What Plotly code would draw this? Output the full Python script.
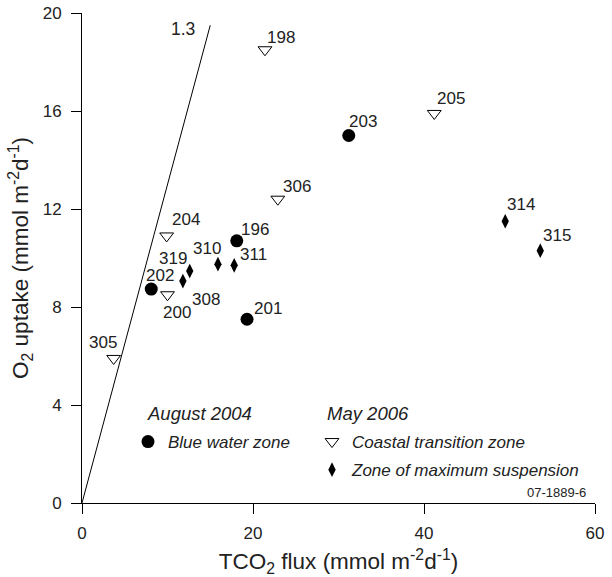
import plotly.graph_objects as go

FONT = "Liberation Sans, Arial, Helvetica, sans-serif"

# Blue water zone (August 2004)
blue_ids = ["203", "196", "202", "201"]
blue_x = [31.2, 18.1, 8.1, 19.3]
blue_y = [15.0, 10.7, 8.73, 7.5]

# Coastal transition zone (May 2006)
coastal_ids = ["198", "205", "306", "204", "200", "305"]
coastal_x = [21.4, 41.2, 22.9, 9.9, 10.0, 3.7]
coastal_y = [18.5, 15.9, 12.4, 10.9, 8.5, 5.9]

# Zone of maximum suspension (May 2006)
zms_ids = ["310", "311", "319", "308", "314", "315"]
zms_x = [15.9, 17.8, 12.6, 11.8, 49.5, 53.6]
zms_y = [9.75, 9.7, 9.47, 9.06, 11.5, 10.3]

# 1.3 ratio line
ratio = 1.3
line_x = [0, 15.0]

x_ticks = [0, 20, 40, 60]
y_ticks = [0, 4, 8, 12, 16, 20]

# label offsets (pixels) for station labels
offsets = {
    "203": (14, 14), "196": (18, 11), "202": (9, 14), "201": (21, 11),
    "198": (16, 12), "205": (17, 15), "306": (19, 13), "204": (19, 16),
    "200": (9, -18), "305": (-11, 16),
    "310": (-11, 16), "311": (19, 11), "319": (-17, 12), "308": (23, -18),
    "314": (16, 17), "315": (17, 15),
}

W, H = 612, 577
L, R, T, B = 82, 17, 13, 74
PW, PH = W - L - R, H - T - B


def px(xp):
    return (xp - L) / PW


def py(yp):
    return (H - B - yp) / PH


fig = go.Figure()

fig.add_trace(go.Scatter(
    x=line_x, y=[v * ratio for v in line_x], mode="lines",
    line=dict(color="black", width=1), showlegend=False, hoverinfo="skip"))

fig.add_trace(go.Scatter(
    x=blue_x, y=blue_y, mode="markers", name="<i>Blue water zone</i>",
    marker=dict(symbol="circle", size=13, color="black", line=dict(width=0)),
    legend="legend"))

fig.add_trace(go.Scatter(
    x=coastal_x, y=coastal_y, mode="markers", name="<i>Coastal transition zone</i>",
    marker=dict(symbol="triangle-down-open", size=12, color="black", line=dict(width=1, color="black")),
    legend="legend2", legendgroup="c"))

fig.add_trace(go.Scatter(
    x=zms_x, y=zms_y, mode="markers", name="<i>Zone of maximum suspension</i>",
    marker=dict(symbol="diamond-tall", size=10.5, color="black", line=dict(width=0)),
    legend="legend2", legendgroup="z"))

annotations = []
for ids, xs, ys in [(blue_ids, blue_x, blue_y), (coastal_ids, coastal_x, coastal_y), (zms_ids, zms_x, zms_y)]:
    for sid, xv, yv in zip(ids, xs, ys):
        dx, dy = offsets[sid]
        annotations.append(dict(x=xv, y=yv, xref="x", yref="y", text=sid, showarrow=False,
                                xshift=dx, yshift=dy, font=dict(size=17, color="#222", family=FONT)))

annotations.append(dict(x=line_x[1], y=line_x[1] * ratio, xref="x", yref="y", text=str(ratio),
                        showarrow=False, xshift=-27, yshift=-4,
                        font=dict(size=17.5, color="#222", family=FONT)))

annotations.append(dict(x=px(145), y=py(413), xref="paper", yref="paper",
                        xanchor="left", yanchor="middle", text="<i>August 2004</i>", showarrow=False,
                        font=dict(size=18.5, color="#222", family=FONT)))
annotations.append(dict(x=px(325), y=py(413), xref="paper", yref="paper",
                        xanchor="left", yanchor="middle", text="<i>May 2006</i>", showarrow=False,
                        font=dict(size=18.5, color="#222", family=FONT)))
annotations.append(dict(x=px(588), y=py(492), xref="paper", yref="paper",
                        xanchor="right", yanchor="middle", text="07-1889-6", showarrow=False,
                        font=dict(size=13, color="#222", family=FONT)))

fig.update_layout(
    width=W, height=H,
    margin=dict(l=L, r=R, t=T, b=B, autoexpand=False),
    paper_bgcolor="white", plot_bgcolor="white",
    font=dict(family=FONT, color="#222", size=17),
    annotations=annotations,
    legend=dict(x=px(128), y=py(442), xanchor="left", yanchor="middle",
                bgcolor="rgba(0,0,0,0)", font=dict(size=17, family=FONT, color="#222")),
    legend2=dict(x=px(312), y=py(456), xanchor="left", yanchor="middle",
                 bgcolor="rgba(0,0,0,0)", tracegroupgap=3, traceorder="grouped",
                 font=dict(size=17, family=FONT, color="#222")),
)

fig.update_xaxes(range=[0, 60], tickvals=x_ticks, showline=True, linecolor="black", linewidth=1,
                 ticks="outside", ticklen=10, tickcolor="black", showgrid=False, zeroline=False,
                 ticklabelstandoff=5, tickfont=dict(size=17), ticklabeloverflow="allow",
                 automargin=False,
                 title=dict(text="TCO<sub>2</sub> flux (mmol m<sup>-2</sup>d<sup>-1</sup>)",
                            font=dict(size=22.5), standoff=12))
fig.update_yaxes(range=[0, 20], tickvals=y_ticks, showline=True, linecolor="black", linewidth=1,
                 ticks="outside", ticklen=10, tickcolor="black", showgrid=False, zeroline=False,
                 ticklabelstandoff=6, tickfont=dict(size=17), ticklabeloverflow="allow",
                 automargin=False,
                 title=dict(text="O<sub>2</sub> uptake (mmol m<sup>-2</sup>d<sup>-1</sup>)",
                            font=dict(size=22.5), standoff=7))

fig.write_html("out.html", config={"displayModeBar": False},
               post_script="document.body.style.margin='0';document.body.style.overflow='hidden';")
